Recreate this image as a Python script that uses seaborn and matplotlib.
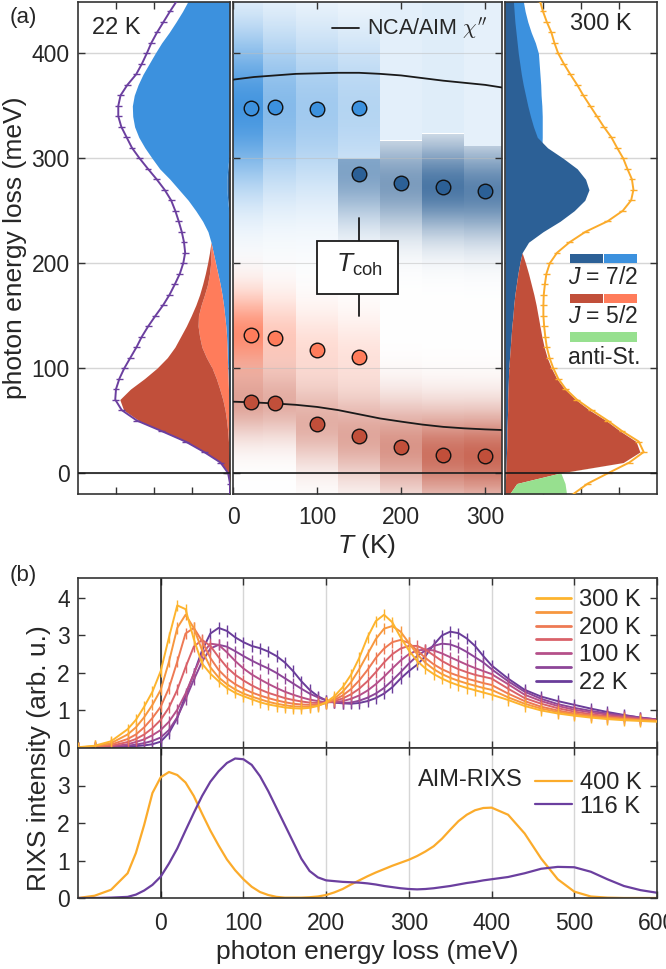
import numpy as np
import pandas as pd
import matplotlib
matplotlib.use("Agg")
import matplotlib.pyplot as plt
from matplotlib.patches import Rectangle
from matplotlib.lines import Line2D
import seaborn as sns

sns.set_theme(style="ticks")
plt.rcParams['font.family'] = ['Liberation Sans', 'DejaVu Sans']
plt.rcParams['mathtext.fontset'] = 'custom'
plt.rcParams['mathtext.rm'] = 'Liberation Sans'
plt.rcParams['mathtext.it'] = 'Liberation Sans:italic'
plt.rcParams['mathtext.bf'] = 'Liberation Sans:bold'
plt.rcParams['axes.edgecolor'] = '#333333'
plt.rcParams['axes.linewidth'] = 1.2

# ------------------------------------------------------------------ data (a)
E_a = list(range(-20, 460, 10))  # photon energy loss grid of side spectra (meV)

# 22 K spectrum (left panel)
fit22 = [0.0, 0.0, 0.05, 0.25, 0.68, 1.17, 1.80, 2.45, 2.85, 3.02, 3.00, 2.91, 2.78, 2.62, 2.46, 2.32,
         2.15, 1.96, 1.76, 1.59, 1.45, 1.32, 1.23, 1.18, 1.21, 1.27, 1.35, 1.44, 1.55, 1.72, 1.93, 2.16,
         2.38, 2.58, 2.72, 2.86, 2.94, 2.94, 2.88, 2.70, 2.47, 2.32, 2.19, 2.07, 1.92, 1.75, 1.58, 1.40]
j72_dark_22 = [0.0] * 26 + [0.01, 0.03, 0.06, 0.08, 0.08, 0.06, 0.03, 0.01] + [0.0] * 14
j72_light_22 = [0, 0, 0, 0, 0.005, 0.01, 0.01, 0.015, 0.02, 0.03, 0.04, 0.05, 0.06, 0.07, 0.08, 0.09,
                0.11, 0.14, 0.17, 0.21, 0.26, 0.32, 0.38, 0.44, 0.50, 0.58, 0.71, 0.87, 1.04, 1.26, 1.50,
                1.79, 2.02, 2.23, 2.40, 2.51, 2.56, 2.57, 2.52, 2.42, 2.29, 2.13, 1.97, 1.80, 1.60, 1.42,
                1.25, 1.10]
j52_light_22 = [0, 0, 0, 0.01, 0.015, 0.03, 0.05, 0.075, 0.11, 0.16, 0.23, 0.31, 0.41, 0.55, 0.66, 0.71,
                0.73, 0.69, 0.59, 0.46, 0.33, 0.22, 0.13, 0.06, 0.0] + [0.0] * 23
j52_dark_22 = [0, 0, 0.03, 0.24, 0.66, 1.13, 1.74, 2.31, 2.67, 2.71, 2.35, 1.89, 1.45, 1.03, 0.71, 0.50,
               0.31, 0.19, 0.14, 0.13, 0.13, 0.11, 0.08, 0.04, 0.0] + [0.0] * 23

# 300 K spectrum (right panel)
fit300 = [1.80, 2.18, 2.72, 3.27, 3.65, 3.52, 3.08, 2.70, 2.28, 1.89, 1.60, 1.40, 1.27, 1.17, 1.10, 1.06,
          1.03, 1.01, 1.01, 1.02, 1.05, 1.09, 1.18, 1.37, 1.70, 2.12, 2.70, 3.10, 3.32, 3.38, 3.34, 3.22,
          3.11, 2.95, 2.80, 2.60, 2.42, 2.24, 2.06, 1.90, 1.72, 1.55, 1.40, 1.30, 1.22, 1.10, 1.00, 0.92]
j72_dark_300 = [0.0, 0.01, 0.02, 0.03, 0.04, 0.05, 0.05, 0.06, 0.07, 0.07, 0.08, 0.09, 0.10, 0.12, 0.14,
                0.16, 0.18, 0.21, 0.23, 0.26, 0.30, 0.34, 0.39, 0.45, 0.62, 1.00, 1.45, 1.82, 2.10, 2.21,
                2.12, 1.90, 1.53, 1.12, 0.85, 0.75, 0.67, 0.60, 0.54, 0.48, 0.43, 0.39, 0.35, 0.32, 0.29,
                0.26, 0.24, 0.22]
j72_light_300 = [0.0] * 32 + [0.96, 0.97, 0.98, 0.98, 0.98, 0.97, 0.95, 0.94, 0.92, 0.90, 0.88, 0.80,
                              0.69, 0.60, 0.53, 0.48]
j52_dark_300 = [0.12, 0.30, 1.43, 3.08, 3.51, 3.40, 2.98, 2.60, 2.15, 1.79, 1.49, 1.27, 1.12, 0.99, 0.89,
                0.81, 0.74, 0.66, 0.59, 0.50, 0.39, 0.28, 0.15, 0.0] + [0.0] * 24
anti_stokes_300 = [1.50, 1.27, 0.02] + [0.0] * 45

# center panel: temperatures, peak positions, NCA/AIM lines
T_pts = [22, 50, 100, 150, 200, 250, 300]
T_col_edges = [0, 36, 75, 125, 175, 225, 275, 320]
E_j72_light = [348, 349, 347, 348]          # T = 22..150
E_j72_dark = [285, 276, 273, 269]           # T = 150..300
E_j52_light = [132, 129, 117, 111]          # T = 22..150
E_j52_dark = [68, 67, 47, 35, 25, 17, 16]   # T = 22..300
T_nca = [0, 25, 50, 75, 100, 125, 150, 175, 200, 225, 250, 275, 300, 320]
nca_j72 = [375, 377.5, 379, 380.5, 381, 381.5, 381.5, 380.5, 379, 376.5, 374, 372, 370, 367.5]
nca_j52 = [68, 67.3, 66.3, 65, 63, 60, 56, 52, 49, 46.2, 44, 42.6, 41.6, 41]

# colour-map intensities of the components per temperature column
hm_lb_amp = [0.95, 0.62, 0.48, 0.38, 0.0, 0.0, 0.0]
hm_lb_width = [55, 58, 60, 60, 60, 60, 60]
hm_cont_amp = [0, 0, 0, 0, 0.14, 0.16, 0.13]
hm_db_amp = [0, 0, 0, 0.50, 0.62, 0.85, 0.78]
hm_db_cut = [450, 450, 450, 300, 317, 324, 312]
hm_sal_amp = [0.85, 0.40, 0.25, 0.20, 0, 0, 0]
hm_dr_amp = [0.50, 0.45, 0.45, 0.50, 0.60, 0.80, 0.85]
hm_dr_width = [25, 25, 28, 30, 32, 32, 32]

tcoh_T = 150
tcoh_span = [150, 243]
tcoh_box = (100, 171, 96, 50)

# ------------------------------------------------------------------ data (b)
E_b = [-100, -80, -60] + list(range(-40, 401, 10)) + list(range(420, 601, 20))
temps_b = [22, 50, 100, 150, 200, 250, 300]
I_22 = [0.0, 0.0, 0.01,
        0.03, 0.05, 0.07, 0.1, 0.17, 0.4, 0.8, 1.4, 1.98, 2.6, 3.05, 3.2, 3.12, 2.95, 2.82,
        2.72, 2.66, 2.57, 2.45, 2.28, 2.05, 1.78, 1.55, 1.38, 1.27, 1.21, 1.19, 1.18, 1.2, 1.25,
        1.33, 1.45, 1.62, 1.85, 2.05, 2.22, 2.45, 2.75, 3.0, 3.1, 3.06, 2.92, 2.72, 2.45, 2.2,
        1.85, 1.55, 1.37, 1.25, 1.15, 1.05, 0.96, 0.88, 0.81, 0.76]
I_50 = [0.0, 0.0, 0.02,
        0.06, 0.09, 0.13, 0.19, 0.28, 0.48, 0.82, 1.3, 1.82, 2.3, 2.65, 2.75, 2.7, 2.58, 2.45,
        2.33, 2.22, 2.12, 2.0, 1.86, 1.72, 1.58, 1.45, 1.35, 1.27, 1.22, 1.2, 1.21, 1.26, 1.34,
        1.45, 1.6, 1.8, 2.02, 2.25, 2.45, 2.6, 2.72, 2.78, 2.76, 2.68, 2.56, 2.42, 2.28, 2.1,
        1.78, 1.5, 1.31, 1.17, 1.07, 0.99, 0.92, 0.87, 0.81, 0.76]
I_100 = [0.0, 0.01, 0.04,
         0.1, 0.16, 0.23, 0.34, 0.48, 0.7, 1.02, 1.45, 1.98, 2.5, 2.78, 2.75, 2.55, 2.32, 2.12,
         1.96, 1.83, 1.71, 1.6, 1.5, 1.42, 1.35, 1.29, 1.25, 1.22, 1.22, 1.25, 1.31, 1.4, 1.53,
         1.7, 1.9, 2.12, 2.33, 2.5, 2.6, 2.62, 2.6, 2.52, 2.42, 2.32, 2.22, 2.13, 2.05, 1.97,
         1.7, 1.42, 1.25, 1.12, 1.02, 0.95, 0.89, 0.84, 0.79, 0.75]
I_150 = [0.0, 0.02, 0.06,
         0.16, 0.24, 0.36, 0.53, 0.75, 1.08, 1.55, 2.15, 2.7, 2.88, 2.72, 2.42, 2.15, 1.95, 1.8,
         1.67, 1.56, 1.47, 1.4, 1.33, 1.28, 1.24, 1.21, 1.2, 1.21, 1.25, 1.32, 1.43, 1.58, 1.78,
         2.02, 2.28, 2.5, 2.65, 2.72, 2.72, 2.62, 2.47, 2.32, 2.2, 2.1, 2.02, 1.95, 1.9, 1.85,
         1.58, 1.33, 1.18, 1.06, 0.97, 0.9, 0.85, 0.81, 0.77, 0.74]
I_200 = [0.01, 0.03, 0.09,
         0.24, 0.36, 0.55, 0.8, 1.1, 1.6, 2.3, 3.05, 3.2, 2.85, 2.4, 2.08, 1.86, 1.7, 1.58,
         1.48, 1.4, 1.33, 1.27, 1.22, 1.18, 1.16, 1.15, 1.16, 1.2, 1.28, 1.4, 1.57, 1.8, 2.08,
         2.4, 2.65, 2.82, 2.88, 2.8, 2.6, 2.4, 2.23, 2.1, 2.0, 1.92, 1.85, 1.79, 1.73, 1.68,
         1.45, 1.25, 1.1, 1.0, 0.92, 0.87, 0.82, 0.78, 0.75, 0.73]
I_250 = [0.01, 0.05, 0.13,
         0.36, 0.55, 0.82, 1.15, 1.55, 2.3, 3.2, 3.55, 3.2, 2.6, 2.15, 1.88, 1.7, 1.56, 1.45,
         1.37, 1.3, 1.23, 1.18, 1.14, 1.11, 1.1, 1.1, 1.13, 1.2, 1.32, 1.5, 1.75, 2.1, 2.5,
         2.9, 3.18, 3.25, 3.1, 2.8, 2.5, 2.27, 2.1, 1.97, 1.87, 1.79, 1.72, 1.66, 1.6, 1.55,
         1.35, 1.18, 1.05, 0.96, 0.89, 0.84, 0.8, 0.77, 0.74, 0.72]
I_300 = [0.02, 0.06, 0.18,
         0.5, 0.75, 1.1, 1.5, 2.05, 2.95, 3.8, 3.7, 2.9, 2.25, 1.98, 1.78, 1.6, 1.47, 1.38,
         1.3, 1.22, 1.16, 1.12, 1.08, 1.06, 1.05, 1.07, 1.12, 1.22, 1.38, 1.62, 1.95, 2.4, 2.95,
         3.38, 3.55, 3.35, 2.95, 2.6, 2.32, 2.12, 1.97, 1.85, 1.75, 1.67, 1.6, 1.54, 1.48, 1.42,
         1.28, 1.12, 1.0, 0.92, 0.86, 0.81, 0.77, 0.74, 0.72, 0.7]
aim_400 = [0.0, 0.06, 0.22,
           0.66, 1.2, 1.95, 2.8, 3.22, 3.36, 3.28, 3.08, 2.72, 2.25, 1.8, 1.4, 1.03, 0.74, 0.5,
           0.3, 0.16, 0.08, 0.03, 0.01, 0.01, 0.01, 0.02, 0.04, 0.08, 0.15, 0.24, 0.36, 0.47, 0.58,
           0.68, 0.77, 0.86, 0.94, 1.02, 1.12, 1.24, 1.38, 1.58, 1.82, 2.05, 2.22, 2.34, 2.4, 2.41,
           2.22, 1.72, 1.05, 0.5, 0.17, 0.04, 0.01, 0.0, 0.0, 0.0]
aim_116 = [0.0, 0.0, 0.01,
           0.03, 0.09, 0.2, 0.35, 0.57, 0.92, 1.32, 1.8, 2.27, 2.72, 3.1, 3.38, 3.6, 3.72, 3.7,
           3.55, 3.25, 2.85, 2.4, 1.95, 1.5, 1.05, 0.72, 0.55, 0.47, 0.45, 0.43, 0.42, 0.41, 0.39,
           0.36, 0.32, 0.29, 0.26, 0.24, 0.23, 0.24, 0.26, 0.29, 0.32, 0.36, 0.4, 0.43, 0.47, 0.5,
           0.56, 0.66, 0.78, 0.83, 0.82, 0.7, 0.5, 0.32, 0.21, 0.14]
spectra_b = [I_22, I_50, I_100, I_150, I_200, I_250, I_300]
legend_b = ["22 K", " ", "100 K", " ", "200 K", " ", "300 K"]

# ------------------------------------------------------------------ styles
c_lb, c_db = '#3c91de', '#2c6096'
c_sal, c_dr = '#ff7c5b', '#c14f3a'
c_green = '#97e08f'
c_purple, c_orange = '#6b3f9f', '#fbab2b'
colors_b = ['#6a3d9a', '#8d4698', '#b5508a', '#d9626a', '#ee7a54', '#f7973f', '#fdb42e']
grid_c = '#d6d6d6'

fig = plt.figure(figsize=(6.66, 9.69), dpi=100)
W, H = 666.0, 969.0
ax_l = fig.add_axes([78 / W, 1 - 494 / H, 152 / W, 492 / H])
ax_c = fig.add_axes([233 / W, 1 - 494 / H, 269 / W, 492 / H])
ax_r = fig.add_axes([505 / W, 1 - 494 / H, 152 / W, 492 / H])
ax_b1 = fig.add_axes([78 / W, 1 - 748 / H, 579 / W, 170 / H])
ax_b2 = fig.add_axes([78 / W, 1 - 898 / H, 579 / W, 150 / H])

E_arr = np.array(E_a, dtype=float)

# ---------------- left panel: 22 K
base = np.zeros(len(E_a))
for comp, col in [(j72_dark_22, c_db), (j72_light_22, c_lb), (j52_light_22, c_sal), (j52_dark_22, c_dr)]:
    top = base + np.array(comp)
    ax_l.fill_betweenx(E_arr, base, top, color=col, lw=0, zorder=1)
    base = top
ax_l.errorbar(fit22, E_a, xerr=0.09, fmt='none', ecolor=c_purple, elinewidth=1.0, zorder=3)
sns.lineplot(x=fit22, y=E_a, sort=False, estimator=None, color=c_purple, lw=1.4, ax=ax_l, zorder=4)
ax_l.text(0.09, 0.948, "22 K", transform=ax_l.transAxes, fontsize=17, va='center', ha='left')

# ---------------- right panel: 300 K
lb300 = np.array(j72_light_300)
ax_r.fill_betweenx(E_arr, 0, lb300, where=lb300 > 0, color=c_lb, lw=0, zorder=1)
base = np.zeros(len(E_a))
for comp, col in [(j72_dark_300, c_db), (j52_dark_300, c_dr), (anti_stokes_300, c_green)]:
    top = base + np.array(comp)
    ax_r.fill_betweenx(E_arr, base, top, color=col, lw=0, zorder=1.2)
    base = top
ax_r.errorbar(fit300, E_a, xerr=0.09, fmt='none', ecolor=c_orange, elinewidth=1.0, zorder=3)
sns.lineplot(x=fit300, y=E_a, sort=False, estimator=None, color=c_orange, lw=1.4, ax=ax_r, zorder=4)
ax_r.text(0.836, 0.955, "300 K", transform=ax_r.transAxes, fontsize=17, va='center', ha='right')
# legend boxes of the components
def patch(ax, x0, y0, w, h, col):
    ax.add_patch(Rectangle((x0, y0), w, h, transform=ax.transAxes, color=col, lw=0, zorder=6, clip_on=False))
patch(ax_r, 0.428, 0.4695, 0.217, 0.0185, c_db)
patch(ax_r, 0.651, 0.4695, 0.217, 0.0185, c_lb)
ax_r.text(0.414, 0.441, "$J$ = 7/2", transform=ax_r.transAxes, fontsize=16.5, va='center', ha='left', zorder=6)
patch(ax_r, 0.428, 0.388, 0.217, 0.0185, c_dr)
patch(ax_r, 0.651, 0.388, 0.217, 0.0185, c_sal)
ax_r.text(0.414, 0.360, "$J$ = 5/2", transform=ax_r.transAxes, fontsize=16.5, va='center', ha='left', zorder=6)
patch(ax_r, 0.428, 0.309, 0.440, 0.020, c_green)
ax_r.text(0.414, 0.278, "anti-St.", transform=ax_r.transAxes, fontsize=16.5, va='center', ha='left', zorder=6)

# ---------------- center panel: colour map + peak positions
E_hm = np.linspace(-20, 450, 941)
cen_lb = E_j72_light + [350, 350, 350]
cen_db = [280, 280, 280] + E_j72_dark
cen_sal = E_j52_light + [110, 110, 110]
rgb_lb, rgb_db = np.array(matplotlib.colors.to_rgb(c_lb)), np.array(matplotlib.colors.to_rgb(c_db))
rgb_sal, rgb_dr = np.array(matplotlib.colors.to_rgb(c_sal)), np.array(matplotlib.colors.to_rgb(c_dr))

def peak(center, amp, width):
    return amp * np.exp(-0.5 * ((E_hm - center) / width) ** 2)

for i in range(len(T_pts)):
    layers = [
        (peak(cen_lb[i], hm_lb_amp[i], hm_lb_width[i]), rgb_lb),
        (hm_cont_amp[i] * (E_hm > hm_db_cut[i]), rgb_lb),
        (peak(cen_db[i], hm_db_amp[i], 32) * (E_hm < hm_db_cut[i]), rgb_db),
        (peak(cen_sal[i], hm_sal_amp[i], 28), rgb_sal),
        (peak(E_j52_dark[i], hm_dr_amp[i], hm_dr_width[i]), rgb_dr),
    ]
    img = np.ones((len(E_hm), 3))
    for a, col in layers:
        a = np.clip(a, 0, 1)[:, None]
        img = img * (1 - a) + col[None, :] * a
    ax_c.imshow(img[:, None, :], extent=(T_col_edges[i], T_col_edges[i + 1], -20, 450),
                origin='lower', aspect='auto', interpolation='nearest', zorder=0)

sns.lineplot(x=T_nca, y=nca_j72, color='k', lw=1.3, ax=ax_c, zorder=3)
sns.lineplot(x=T_nca, y=nca_j52, color='k', lw=1.3, ax=ax_c, zorder=3)
mk = dict(s=110, edgecolor='#111111', linewidth=1.0, zorder=5, ax=ax_c, legend=False)
sns.scatterplot(x=T_pts[:4], y=E_j72_light, color=c_lb, **mk)
sns.scatterplot(x=T_pts[3:], y=E_j72_dark, color=c_db, **mk)
sns.scatterplot(x=T_pts[:4], y=E_j52_light, color=c_sal, **mk)
sns.scatterplot(x=T_pts, y=E_j52_dark, color=c_dr, **mk)

ax_c.plot([tcoh_T, tcoh_T], tcoh_span, color='k', lw=1.3, zorder=6)
ax_c.add_patch(Rectangle(tcoh_box[:2], tcoh_box[2], tcoh_box[3], fc='white', ec='k', lw=1.3, zorder=7))
ax_c.text(tcoh_T, tcoh_box[1] + tcoh_box[3] / 2 + 2, r"$T_{\rm coh}$", fontsize=19, ha='center', va='center', zorder=8)
leg = ax_c.legend([Line2D([], [], color='k', lw=1.3)], ["NCA/AIM $\\chi''$"], loc='upper right',
                  frameon=False, fontsize=15.5, handlelength=1.25, handletextpad=0.4, borderaxespad=0.25)
leg.get_texts()[0].set_math_fontfamily('cm')

# ---------------- common panel (a) formatting
for ax in (ax_l, ax_c, ax_r):
    ax.set_ylim(-20, 449)
    ax.set_yticks([0, 100, 200, 300, 400])
    ax.axhline(0, color='k', lw=1.2, zorder=5)
    ax.grid(axis='y', color=grid_c, lw=1.0)
    ax.grid(axis='x', visible=False)
    ax.tick_params(direction='in', length=5, width=1, top=True, right=True, left=True, bottom=True,
                   labelsize=16.5, color='#333333')
    ax.tick_params(axis='y', pad=6)
    ax.tick_params(axis='x', pad=9)
    ax.set_xlabel("")
    ax.set_ylabel("")
ax_l.set_axisbelow(True)
ax_r.set_axisbelow(True)
ax_c.set_axisbelow(False)
ax_c.grid(axis='y', color='#bdbdbd', lw=0.8, alpha=0.5)
ax_l.set_xlim(4, 0)
ax_l.set_xticks([1, 2, 3])
ax_l.set_xticklabels([])
ax_r.set_xlim(0, 4)
ax_r.set_xticks([1, 2, 3])
ax_r.set_xticklabels([])
ax_r.set_yticklabels([])
ax_c.set_xlim(0, 320)
ax_c.set_xticks([0, 100, 200, 300])
ax_c.set_yticklabels([])

# ---------------- panel (b)
for i, (T, I, col) in enumerate(zip(temps_b, spectra_b, colors_b)):
    ax_b1.errorbar(E_b, I, yerr=0.15, fmt='none', ecolor=col, elinewidth=1.0, zorder=2 + i * 0.1)
    sns.lineplot(x=E_b, y=I, color=col, lw=1.4, ax=ax_b1, zorder=2.05 + i * 0.1)
handles = [Line2D([], [], color=c, lw=2) for c in colors_b[::-1]]
ax_b1.legend(handles, legend_b[::-1], loc='upper right', frameon=False, fontsize=17,
             handlelength=1.45, handletextpad=0.35, labelspacing=-0.35, borderaxespad=0.3,
             bbox_to_anchor=(1.0, 1.03))

sns.lineplot(x=E_b, y=aim_400, color=c_orange, lw=1.6, ax=ax_b2, label="400 K")
sns.lineplot(x=E_b, y=aim_116, color=c_purple, lw=1.6, ax=ax_b2, label="116 K")
ax_b2.legend(loc='upper right', frameon=False, fontsize=17, handlelength=1.55, handletextpad=0.35,
             labelspacing=0.05, borderaxespad=0.25, bbox_to_anchor=(1.0, 0.94))
ax_b2.text(0.768, 0.787, "AIM-RIXS", transform=ax_b2.transAxes, fontsize=17, ha='right', va='center')

for ax in (ax_b1, ax_b2):
    ax.set_xlim(-100, 600)
    ax.set_xticks([0, 100, 200, 300, 400, 500, 600])
    ax.axvline(0, color='k', lw=1.1, zorder=1.5)
    ax.grid(axis='x', color=grid_c, lw=1.0)
    ax.grid(axis='y', visible=False)
    ax.set_axisbelow(True)
    ax.tick_params(direction='in', length=5, width=1, top=True, right=True, labelsize=16.5,
                   color='#333333')
    ax.tick_params(axis='y', pad=6)
    ax.tick_params(axis='x', pad=10)
    ax.set_xlabel("")
    ax.set_ylabel("")
ax_b1.set_ylim(0, 4.53)
ax_b1.set_yticks([0, 1, 2, 3, 4])
ax_b1.set_xticklabels([])
ax_b2.set_ylim(0, 4.0)
ax_b2.set_yticks([0, 1, 2, 3])

# ---------------- labels
fig.text(15 / W, 1 - 248 / H, "photon energy loss (meV)", rotation=90, fontsize=19, ha='center', va='center')
fig.text(367 / W, 1 - 546 / H, "$T$ (K)", fontsize=19, ha='center', va='center')
fig.text(39 / W, 1 - 758 / H, "RIXS intensity (arb. u.)", rotation=90, fontsize=19, ha='center', va='center')
fig.text(367 / W, 1 - 952 / H, "photon energy loss (meV)", fontsize=19, ha='center', va='center')
fig.text(10 / W, 1 - 18 / H, "(a)", fontsize=16, ha='left', va='center')
fig.text(10 / W, 1 - 575 / H, "(b)", fontsize=16, ha='left', va='center')

fig.savefig("out.png", dpi=100)
